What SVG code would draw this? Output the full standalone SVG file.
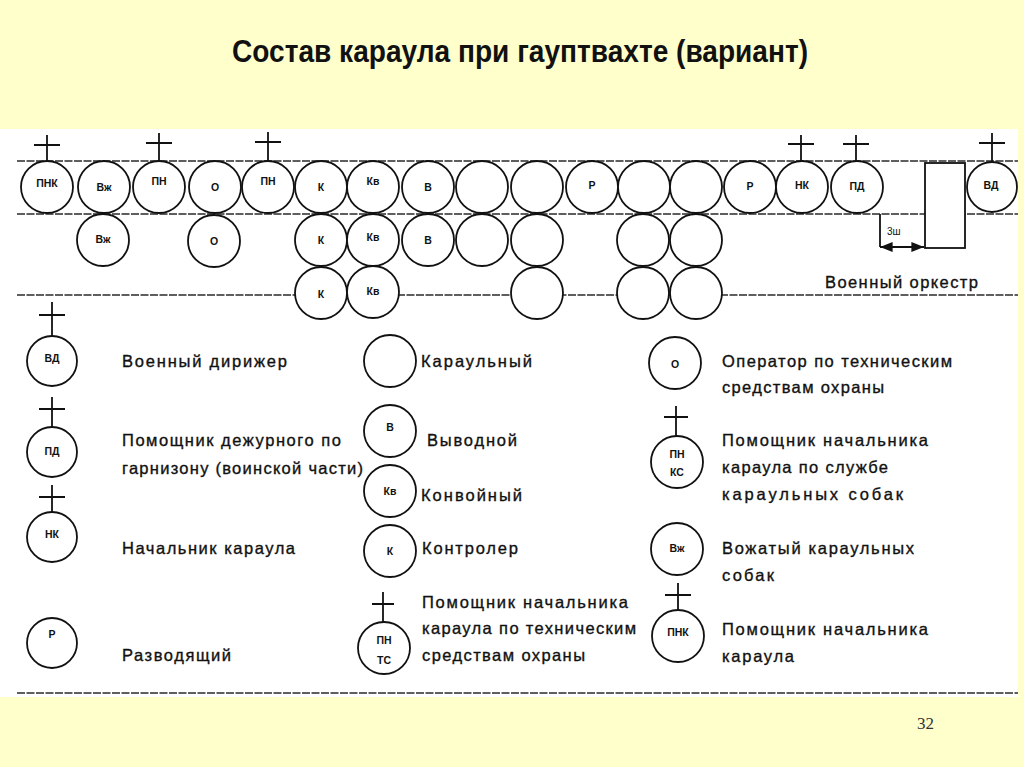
<svg xmlns="http://www.w3.org/2000/svg" width="1024" height="767" viewBox="0 0 1024 767">
<style>
.rule{stroke:#2a2a2a;stroke-width:1.5;stroke-dasharray:8 1.5;fill:none}
.c{fill:#fff;stroke:#111;stroke-width:1.8}
.x{stroke:#111;stroke-width:1.8;fill:none}
.l{font-family:"Liberation Sans",Arial,sans-serif;font-weight:bold;font-size:10.5px;fill:#111;text-anchor:middle}
.t{font-family:"Liberation Sans",Arial,sans-serif;font-size:16.5px;fill:#111;stroke:#111;stroke-width:0.35}
</style>
<defs>
<marker id="ah" viewBox="0 0 10 10" refX="10" refY="5" markerWidth="7" markerHeight="7" orient="auto-start-reverse"><path d="M0,1 L10,5 L0,9 z" fill="#111"/></marker>
</defs>
<rect x="0" y="0" width="1024" height="767" fill="#FFFFCC"/>
<rect x="0" y="129" width="1018" height="568" fill="#fff"/>
<text x="520" y="62" text-anchor="middle" font-family="Liberation Sans, Arial, sans-serif" font-weight="bold" font-size="31" textLength="576" lengthAdjust="spacingAndGlyphs" fill="#111">Состав караула при гауптвахте (вариант)</text>
<text x="917" y="729" font-family="Liberation Serif, Times New Roman, serif" font-size="17" fill="#333">32</text>

<g id="rules">
<line class="rule" x1="17" y1="161" x2="1018" y2="161"/>
<line class="rule" x1="17" y1="214" x2="1018" y2="214"/>
<line class="rule" x1="17" y1="295" x2="1018" y2="295"/>
<line class="rule" x1="17" y1="693" x2="1018" y2="693"/>
</g>

<g id="formation">
<g id="r1-pnk"><path class="x" d="M47,135V161M34,145H60"/><circle class="c" cx="47" cy="187" r="26"/><text class="l" x="47" y="187">ПНК</text></g>
<g id="r1-vzh"><circle class="c" cx="104" cy="187" r="26"/><text class="l" x="104" y="191">Вж</text></g>
<g id="r1-pn1"><path class="x" d="M159,133V161M146,143H172"/><circle class="c" cx="159" cy="187" r="26"/><text class="l" x="159" y="185">ПН</text></g>
<g id="r1-o"><circle class="c" cx="215" cy="187" r="26"/><text class="l" x="215" y="191">О</text></g>
<g id="r1-pn2"><path class="x" d="M268,132V161M255,142H281"/><circle class="c" cx="268" cy="187" r="26"/><text class="l" x="268" y="185">ПН</text></g>
<g id="r1-k"><circle class="c" cx="321" cy="187" r="26"/><text class="l" x="321" y="191">К</text></g>
<g id="r1-kv"><circle class="c" cx="373" cy="187" r="26"/><text class="l" x="373" y="185">Кв</text></g>
<g id="r1-v"><circle class="c" cx="428" cy="187" r="26"/><text class="l" x="428" y="191">В</text></g>
<g id="r1-b1"><circle class="c" cx="482" cy="187" r="26"/></g>
<g id="r1-b2"><circle class="c" cx="537" cy="187" r="26"/></g>
<g id="r1-r1"><circle class="c" cx="592" cy="187" r="26"/><text class="l" x="592" y="189">Р</text></g>
<g id="r1-b3"><circle class="c" cx="644" cy="187" r="26"/></g>
<g id="r1-b4"><circle class="c" cx="696" cy="187" r="26"/></g>
<g id="r1-r2"><circle class="c" cx="750" cy="187" r="26"/><text class="l" x="750" y="190">Р</text></g>
<g id="r1-nk"><path class="x" d="M801,135V161M788,144H814"/><circle class="c" cx="802" cy="187" r="26"/><text class="l" x="802" y="189">НК</text></g>
<g id="r1-pd"><path class="x" d="M856,135V161M843,144H869"/><circle class="c" cx="857" cy="187" r="26"/><text class="l" x="857" y="190">ПД</text></g>
<g id="r1-vd"><path class="x" d="M992,133V162M979,143H1005"/><circle class="c" cx="992" cy="187" r="25"/><text class="l" x="991" y="189">ВД</text></g>

<g id="r2-vzh"><circle class="c" cx="103" cy="240" r="26"/><text class="l" x="103" y="243">Вж</text></g>
<g id="r2-o"><circle class="c" cx="214" cy="241" r="26"/><text class="l" x="214" y="245">О</text></g>
<g id="r2-k"><circle class="c" cx="321" cy="240" r="26"/><text class="l" x="321" y="244">К</text></g>
<g id="r2-kv"><circle class="c" cx="373" cy="240" r="26"/><text class="l" x="373" y="241">Кв</text></g>
<g id="r2-v"><circle class="c" cx="428" cy="240" r="26"/><text class="l" x="428" y="244">В</text></g>
<g id="r2-b1"><circle class="c" cx="482" cy="240" r="26"/></g>
<g id="r2-b2"><circle class="c" cx="537" cy="240" r="26"/></g>
<g id="r2-b3"><circle class="c" cx="643" cy="240" r="26"/></g>
<g id="r2-b4"><circle class="c" cx="696" cy="240" r="26"/></g>

<g id="r3-k"><circle class="c" cx="321" cy="293" r="26"/><text class="l" x="321" y="298">К</text></g>
<g id="r3-kv"><circle class="c" cx="373" cy="292" r="26"/><text class="l" x="373" y="295">Кв</text></g>
<g id="r3-b1"><circle class="c" cx="537" cy="293" r="26"/></g>
<g id="r3-b2"><circle class="c" cx="643" cy="293" r="26"/></g>
<g id="r3-b3"><circle class="c" cx="696" cy="293" r="26"/></g>

<g id="orchestra"><rect x="925" y="163" width="40" height="85" fill="#fff" stroke="#111" stroke-width="1.8"/><text class="t" x="825" y="288" textLength="153" lengthAdjust="spacing">Военный оркестр</text></g>
</g>

<g id="connectors">
<line class="x" x1="880" y1="214" x2="880" y2="247" stroke-width="1.4"/>
<line class="x" x1="880" y1="247" x2="924" y2="247" stroke-width="1.4" marker-start="url(#ah)" marker-end="url(#ah)"/>
<text x="887" y="235" font-family="Liberation Sans, Arial, sans-serif" font-size="10" fill="#111">3ш</text>
</g>

<g id="legend">
<g id="lg-vd"><path class="x" d="M52,302V336M39,315H65"/><circle class="c" cx="52" cy="361" r="25"/><text class="l" x="52" y="362">ВД</text>
<text class="t" x="122" y="367" textLength="165" lengthAdjust="spacing">Военный дирижер</text></g>
<g id="lg-pd"><path class="x" d="M52,397V427M39,409H65"/><circle class="c" cx="52" cy="452" r="25"/><text class="l" x="52" y="455">ПД</text>
<text class="t" x="122" y="446" textLength="219" lengthAdjust="spacing">Помощник дежурного по</text>
<text class="t" x="122" y="474" textLength="241" lengthAdjust="spacing">гарнизону (воинской части)</text></g>
<g id="lg-nk"><path class="x" d="M52,485V512M39,497H65"/><circle class="c" cx="52" cy="537" r="25"/><text class="l" x="52" y="538">НК</text>
<text class="t" x="122" y="554" textLength="173" lengthAdjust="spacing">Начальник караула</text></g>
<g id="lg-r"><circle class="c" cx="52" cy="643" r="25"/><text class="l" x="52" y="638">Р</text>
<text class="t" x="122" y="661" textLength="109" lengthAdjust="spacing">Разводящий</text></g>

<g id="lg-kar"><circle class="c" cx="390" cy="361" r="26"/>
<text class="t" x="421" y="367" textLength="111" lengthAdjust="spacing">Караульный</text></g>
<g id="lg-v"><circle class="c" cx="390" cy="431" r="26"/><text class="l" x="390" y="431">В</text>
<text class="t" x="427" y="446" textLength="90" lengthAdjust="spacing">Выводной</text></g>
<g id="lg-kv"><circle class="c" cx="390" cy="491" r="26"/><text class="l" x="390" y="495">Кв</text>
<text class="t" x="421" y="501" textLength="101" lengthAdjust="spacing">Конвойный</text></g>
<g id="lg-k"><circle class="c" cx="390" cy="551" r="26"/><text class="l" x="390" y="555">К</text>
<text class="t" x="422" y="554" textLength="96" lengthAdjust="spacing">Контролер</text></g>
<g id="lg-pnts"><path class="x" d="M383,592V622M372,604H394"/><circle class="c" cx="384" cy="648" r="26"/><text class="l" x="384" y="644">ПН</text><text class="l" x="384" y="664">ТС</text>
<text class="t" x="422" y="608" textLength="206" lengthAdjust="spacing">Помощник начальника</text>
<text class="t" x="422" y="634" textLength="214" lengthAdjust="spacing">караула по техническим</text>
<text class="t" x="422" y="661" textLength="163" lengthAdjust="spacing">средствам охраны</text></g>

<g id="lg-o"><circle class="c" cx="675" cy="363" r="26"/><text class="l" x="675" y="368">О</text>
<text class="t" x="722" y="367" textLength="230" lengthAdjust="spacing">Оператор по техническим</text>
<text class="t" x="722" y="393" textLength="162" lengthAdjust="spacing">средствам охраны</text></g>
<g id="lg-pnks"><path class="x" d="M676,406V436M664,417H688"/><circle class="c" cx="677" cy="462" r="26"/><text class="l" x="677" y="458">ПН</text><text class="l" x="677" y="476">КС</text>
<text class="t" x="722" y="446" textLength="206" lengthAdjust="spacing">Помощник начальника</text>
<text class="t" x="722" y="473" textLength="166" lengthAdjust="spacing">караула по службе</text>
<text class="t" x="722" y="500" textLength="181" lengthAdjust="spacing">караульных собак</text></g>
<g id="lg-vzh"><circle class="c" cx="677" cy="549" r="26"/><text class="l" x="677" y="552">Вж</text>
<text class="t" x="722" y="554" textLength="192" lengthAdjust="spacing">Вожатый караульных</text>
<text class="t" x="722" y="581" textLength="52" lengthAdjust="spacing">собак</text></g>
<g id="lg-pnk"><path class="x" d="M678,583V610M665,595H691"/><circle class="c" cx="678" cy="636" r="26"/><text class="l" x="678" y="636">ПНК</text>
<text class="t" x="722" y="635" textLength="206" lengthAdjust="spacing">Помощник начальника</text>
<text class="t" x="722" y="662" textLength="72" lengthAdjust="spacing">караула</text></g>
</g>
</svg>
